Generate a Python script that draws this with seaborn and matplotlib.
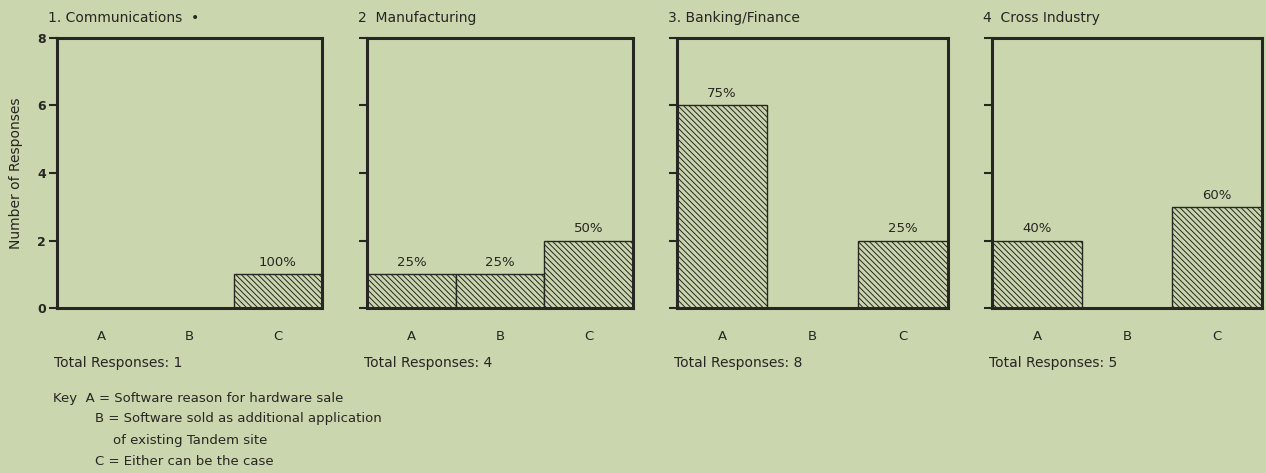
import pandas as pd
import matplotlib
matplotlib.use('Agg')
import matplotlib.pyplot as plt
import seaborn as sns

sns.set_style('white')
plt.rcParams['font.family'] = ['DejaVu Sans']
plt.rcParams['hatch.linewidth'] = 0.7

# data
categories = ['A', 'B', 'C']
panel_titles = ['1. Communications  \u2022', '2  Manufacturing', '3. Banking/Finance', '4  Cross Industry']
communications = [0, 0, 1]
manufacturing = [1, 1, 2]
banking = [6, 0, 2]
cross_industry = [2, 0, 3]
totals = [1, 4, 8, 5]
key_lines = ['Key  A = Software reason for hardware sale',
             'B = Software sold as additional application',
             'of existing Tandem site',
             'C = Either can be the case']

series = [communications, manufacturing, banking, cross_industry]

bg = '#cad6ae'
ink = '#262622'

fig = plt.figure(figsize=(12.66, 4.73), dpi=100, facecolor=bg)
W, H = 1266, 473
panel_x = [(57, 322), (367, 633), (677, 948), (992, 1262)]
top, bottom = 38, 308

for i, (vals, title, total) in enumerate(zip(series, panel_titles, totals)):
    x0, x1 = panel_x[i]
    ax = fig.add_axes([x0 / W, 1 - bottom / H, (x1 - x0) / W, (bottom - top) / H])
    ax.set_facecolor(bg)
    df = pd.DataFrame({'answer': categories, 'count': vals})
    sns.barplot(data=df, x='answer', y='count', ax=ax, width=1.0,
                color=bg, edgecolor=ink, linewidth=1.0, hatch='\\\\\\\\\\\\', saturation=1)
    ax.set_xlim(-0.5, 2.5)
    ax.set_ylim(0, 8)
    ax.set_yticks([0, 2, 4, 6, 8])
    ax.set_xlabel('')
    ax.set_ylabel('')
    for s in ax.spines.values():
        s.set_linewidth(2.2)
        s.set_color(ink)
        s.set_visible(True)
    ax.tick_params(axis='y', direction='out', length=6, width=1.5, color=ink,
                   left=True, labelsize=9, labelcolor=ink, pad=2)
    ax.tick_params(axis='x', length=0, labelsize=9.5, labelcolor=ink, pad=16)
    if i == 0:
        ax.set_ylabel('Number of Responses', fontsize=10, color=ink, labelpad=10)
        for lab in ax.get_yticklabels():
            lab.set_fontweight('semibold')
    else:
        ax.set_yticklabels([])
    # percentage labels
    for j, v in enumerate(vals):
        if v > 0:
            ax.text(j, v + 0.15, f'{round(100 * v / total)}%', ha='center', va='bottom',
                    fontsize=9.5, color=ink)
    fig.text((x0 - 9) / W, 1 - 18 / H, title, fontsize=10, color=ink, ha='left', va='center')
    fig.text((x0 - 3) / W, 1 - 363 / H, f'Total Responses: {total}', fontsize=10, color=ink,
             ha='left', va='center')

key_pos = [(53, 398), (95, 418), (113, 440), (95, 461)]
for (kx, ky), line in zip(key_pos, key_lines):
    fig.text(kx / W, 1 - ky / H, line, fontsize=9.5, color=ink, ha='left', va='center')

fig.savefig('out.png', dpi=100, facecolor=bg)
